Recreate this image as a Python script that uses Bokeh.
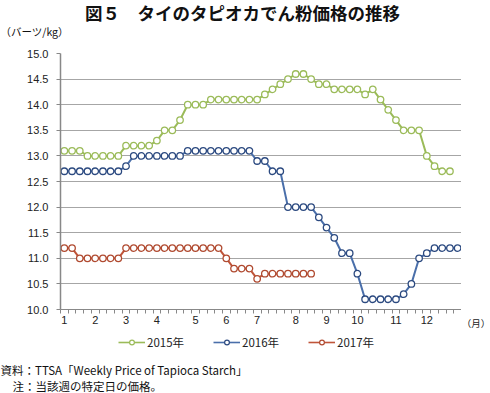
from bokeh.plotting import figure
from bokeh.models import (Range1d, FixedTicker, NumeralTickFormatter, Label,
                          Legend, LegendItem)
from bokeh.layouts import column, row
from bokeh.embed import file_html
from bokeh.resources import INLINE

# ---- data ----
weeks = list(range(52))
month_tick_weeks = [0, 4, 8, 12, 17, 21, 25, 30, 34, 38, 43, 47]
month_labels = ["1", "2", "3", "4", "5", "6", "7", "8", "9", "10", "11", "12"]
y_ticks = [10.0, 10.5, 11.0, 11.5, 12.0, 12.5, 13.0, 13.5, 14.0, 14.5, 15.0]

price_2015 = [13.1, 13.1, 13.1, 13.0, 13.0, 13.0, 13.0, 13.0, 13.2, 13.2,
              13.2, 13.2, 13.3, 13.5, 13.5, 13.7, 14.0, 14.0, 14.0, 14.1,
              14.1, 14.1, 14.1, 14.1, 14.1, 14.1, 14.2, 14.3, 14.4, 14.5,
              14.6, 14.6, 14.5, 14.4, 14.4, 14.3, 14.3, 14.3, 14.3, 14.2,
              14.3, 14.1, 13.9, 13.7, 13.5, 13.5, 13.5, 13.0, 12.8, 12.7,
              12.7]
price_2016 = [12.7, 12.7, 12.7, 12.7, 12.7, 12.7, 12.7, 12.7, 12.8, 13.0,
              13.0, 13.0, 13.0, 13.0, 13.0, 13.0, 13.1, 13.1, 13.1, 13.1,
              13.1, 13.1, 13.1, 13.1, 13.1, 12.9, 12.9, 12.7, 12.7, 12.0,
              12.0, 12.0, 12.0, 11.8, 11.6, 11.4, 11.1, 11.1, 10.7, 10.2,
              10.2, 10.2, 10.2, 10.2, 10.3, 10.5, 11.0, 11.1, 11.2, 11.2,
              11.2, 11.2]
price_2017 = [11.2, 11.2, 11.0, 11.0, 11.0, 11.0, 11.0, 11.0, 11.2, 11.2,
              11.2, 11.2, 11.2, 11.2, 11.2, 11.2, 11.2, 11.2, 11.2, 11.2,
              11.2, 11.0, 10.8, 10.8, 10.8, 10.6, 10.7, 10.7, 10.7, 10.7,
              10.7, 10.7, 10.7]
series = [("2015年", price_2015, "#9BBB59", "#9BBB59"),
          ("2016年", price_2016, "#4A6FAA", "#2C4A80"),
          ("2017年", price_2017, "#C0553A", "#B04A30")]

title_text = "図５　タイのタピオカでん粉価格の推移"
unit_y_text = "（バーツ/kg）"
unit_x_text = "（月）"
source_text = "資料：TTSA「Weekly Price of Tapioca Starch」"
note_text = "注：当該週の特定日の価格。"

JP = "Noto Sans CJK JP"
NUM = "Liberation Sans"


def blank(width, height, **kw):
    f = figure(width=width, height=height, output_backend="svg",
               toolbar_location=None, x_range=Range1d(0, 1),
               y_range=Range1d(0, 1), x_axis_location=None,
               y_axis_location=None, min_border=0, **kw)
    f.outline_line_color = None
    f.grid.visible = False
    return f


def lab(f, x, y, text, size="11px", align="left", bold=False):
    f.add_layout(Label(x=x, y=y, x_units="screen", y_units="screen", text=text,
                       text_font=JP, text_font_size=size, text_align=align,
                       text_baseline="middle", text_color="#111111",
                       text_font_style="bold" if bold else "normal"))


# ---- top strip: title and y unit ----
top = blank(490, 45)
lab(top, 242, 33, title_text, size="17.5px", align="center", bold=True)
lab(top, 0, 14, unit_y_text, size="10.5px")

# ---- main chart ----
p = figure(width=461, height=287, output_backend="svg", toolbar_location=None,
           x_range=Range1d(-0.5, 51.5), y_range=Range1d(10, 15),
           min_border_left=60, min_border_right=0, min_border_top=8,
           min_border_bottom=20)
p.outline_line_color = None

for name, vals, col, edge in series:
    xs = weeks[:len(vals)]
    p.line(xs, vals, line_color=col, line_width=2)
    p.scatter(xs, vals, marker="circle", size=6.5, fill_color="white",
              line_color=edge, line_width=1.3)

xa = p.xaxis[0]
xa.ticker = FixedTicker(ticks=month_tick_weeks,
                        minor_ticks=[w - 0.5 for w in range(53)])
xa.major_label_overrides = {w: l for w, l in zip(month_tick_weeks, month_labels)}
xa.major_tick_line_color = None
xa.major_tick_out = 4
xa.minor_tick_in = 0
xa.minor_tick_out = 4
xa.minor_tick_line_color = "#888888"
xa.axis_line_color = "#888888"
xa.major_label_text_font = NUM
xa.major_label_text_font_size = "11px"
xa.major_label_text_color = "#222222"
xa.major_label_standoff = 2

ya = p.yaxis[0]
ya.ticker = FixedTicker(ticks=y_ticks)
ya.formatter = NumeralTickFormatter(format="0.0")
ya.major_tick_in = 0
ya.major_tick_out = 4
ya.major_tick_line_color = "#888888"
ya.minor_tick_line_color = None
ya.axis_line_color = "#888888"
ya.axis_line_width = 1.5
ya.major_label_text_font = NUM
ya.major_label_text_font_size = "11px"
ya.major_label_text_color = "#222222"
ya.major_label_standoff = 8

p.xgrid.grid_line_color = None
p.ygrid.grid_line_color = "#A6A6A6"
p.ygrid.grid_line_width = 1
p.ygrid.ticker = FixedTicker(ticks=y_ticks)

# ---- right strip: x unit, level with the month labels ----
side = figure(width=29, height=287, output_backend="svg", toolbar_location=None,
              x_range=Range1d(0, 1), y_range=Range1d(0, 1), y_axis_location=None,
              min_border_left=0, min_border_right=0, min_border_top=8,
              min_border_bottom=20)
side.outline_line_color = None
side.grid.visible = False
sa = side.xaxis[0]
sa.ticker = FixedTicker(ticks=[0.5], minor_ticks=[])
sa.major_label_overrides = {0.5: unit_x_text}
sa.axis_line_color = None
sa.major_tick_line_color = None
sa.minor_tick_line_color = None
sa.major_tick_out = 4
sa.major_label_standoff = 2
sa.major_label_text_font = JP
sa.major_label_text_font_size = "9.5px"
sa.major_label_text_color = "#222222"

# ---- bottom strip: legend and notes ----
bottom = blank(490, 61)
items = []
for name, vals, col, edge in series:
    xs = weeks[:len(vals)]
    r1 = bottom.line(xs, vals, line_color=col, line_width=1.6)
    r2 = bottom.scatter(xs, vals, marker="circle", size=5.5, fill_color="white",
                        line_color=edge, line_width=1.2)
    items.append(LegendItem(label=name, renderers=[r1, r2]))
legend = Legend(items=items, orientation="horizontal", location=(118, 43),
                border_line_color=None, background_fill_alpha=0,
                padding=0, margin=0, spacing=29, glyph_width=27,
                glyph_height=12, label_height=12, label_standoff=2,
                label_text_font=JP, label_text_font_size="11.5px",
                label_text_color="#222222")
bottom.add_layout(legend)
lab(bottom, 0, 24, source_text, size="11.5px")
lab(bottom, 12, 8, note_text, size="11.5px")

layout = column(top, row(p, side), bottom)
open("out.html", "w").write(file_html(layout, INLINE))
